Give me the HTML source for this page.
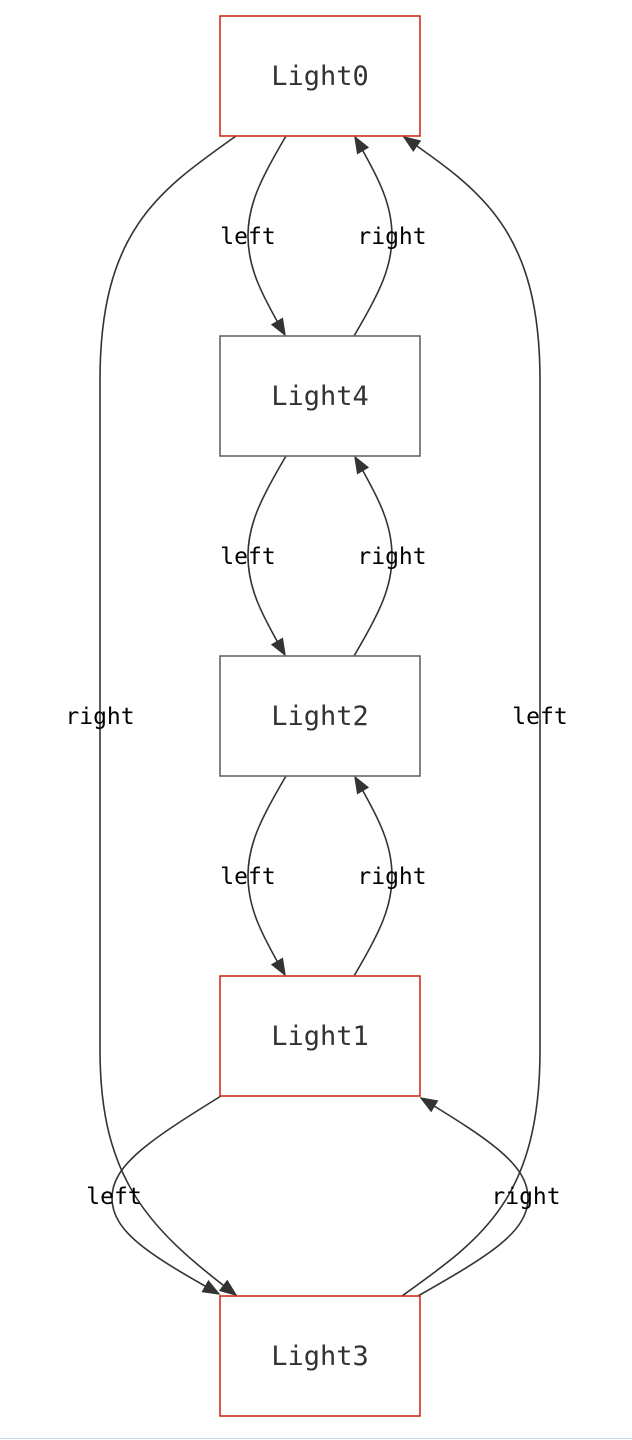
<!DOCTYPE html>
<html><head><style>
html,body{margin:0;padding:0;background:#fff;width:632px;height:1440px;overflow:hidden}
</style></head><body>
<svg width="632" height="1440" xmlns="http://www.w3.org/2000/svg">
<defs>
<marker id="a" viewBox="0 0 10 10" refX="9" refY="5" markerWidth="18" markerHeight="14" markerUnits="userSpaceOnUse" orient="auto" preserveAspectRatio="none">
<path d="M0,0 L10,5 L0,10 z" fill="#333"/>
</marker>
</defs>
<g fill="none" stroke="#333" stroke-width="1.6" marker-end="url(#a)">
<path d="M286,136 C260,180 248,205 248,236 C248,267 260,292 285,335"/>
<path d="M354,336 C380,292 392,267 392,236 C392,205 380,180 355,137"/>
<path d="M286,456 C260,500 248,525 248,556 C248,587 260,612 285,655"/>
<path d="M354,656 C380,612 392,587 392,556 C392,525 380,500 355,457"/>
<path d="M286,776 C260,820 248,845 248,876 C248,907 260,932 285,975"/>
<path d="M354,976 C380,932 392,907 392,876 C392,845 380,820 355,777"/>
<path d="M236,136 C160,190 100,230 100,380 L100,1050 C100,1180 150,1230 236,1295"/>
<path d="M402,1296 C480,1240 540,1200 540,1050 L540,380 C540,230 480,190 404,137"/>
<path d="M221,1096 C150,1140 112,1165 112,1198 C112,1232 150,1255 219,1294"/>
<path d="M418,1296 C490,1255 528,1232 528,1198 C528,1165 490,1140 421,1098"/>
</g>
<g fill="#fff" stroke-width="1.6">
<rect x="220" y="16" width="200" height="120" stroke="#d03020"/>
<rect x="220" y="336" width="200" height="120" stroke="#666"/>
<rect x="220" y="656" width="200" height="120" stroke="#666"/>
<rect x="220" y="976" width="200" height="120" stroke="#d03020"/>
<rect x="220" y="1296" width="200" height="120" stroke="#d03020"/>
</g>
<g font-family="'DejaVu Sans Mono','Liberation Mono',monospace" font-size="27" fill="#333" text-anchor="middle">
<text x="320" y="85">Light0</text>
<text x="320" y="405">Light4</text>
<text x="320" y="725">Light2</text>
<text x="320" y="1045">Light1</text>
<text x="320" y="1365">Light3</text>
</g>
<g font-family="'DejaVu Sans Mono','Liberation Mono',monospace" font-size="23" fill="#000" text-anchor="middle">
<text x="248" y="244">left</text><text x="392" y="244">right</text>
<text x="248" y="564">left</text><text x="392" y="564">right</text>
<text x="248" y="884">left</text><text x="392" y="884">right</text>
<text x="100" y="724">right</text><text x="540" y="724">left</text>
<text x="114" y="1204">left</text><text x="526" y="1204">right</text>
</g>
<line x1="0" y1="1438.5" x2="632" y2="1438.5" stroke="#c8d8e8" stroke-width="1"/>
</svg>
</body></html>
